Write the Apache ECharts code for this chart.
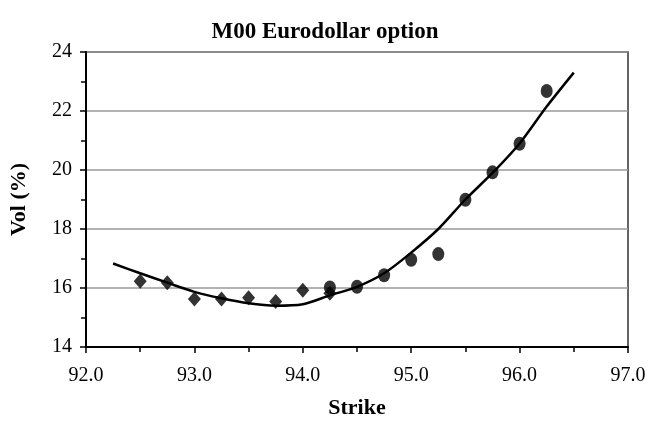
<!DOCTYPE html>
<html>
<head>
<meta charset="utf-8">
<script src="https://cdn.jsdelivr.net/npm/echarts@6/dist/echarts.min.js"></script>
<style>
  html, body { margin: 0; padding: 0; background: #fff; }
  #chart { width: 650px; height: 424px; }
</style>
</head>
<body>
<div id="chart"></div>
<script>
  // market vols
  var putStrikes = [92.5, 92.75, 93.0, 93.25, 93.5, 93.75, 94.0, 94.25];
  var putVols = [16.23, 16.18, 15.63, 15.63, 15.67, 15.54, 15.92, 15.82];

  var callStrikes = [94.25, 94.5, 94.75, 95.0, 95.25, 95.5, 95.75, 96.0, 96.25];
  var callVols = [16.02, 16.04, 16.43, 16.96, 17.15, 18.99, 19.92, 20.89, 22.68];

  // fitted smile
  var fitStrikes = [92.25, 92.5, 92.75, 93.0, 93.25, 93.5, 93.75, 94.0, 94.25, 94.5, 94.75, 95.0, 95.25, 95.5, 95.75, 96.0, 96.25, 96.5];
  var fitVols = [16.83, 16.5, 16.18, 15.87, 15.65, 15.48, 15.4, 15.45, 15.75, 16.04, 16.5, 17.2, 18.0, 19.0, 19.9, 20.9, 22.15, 23.3];

  var font = '"Liberation Serif", "Times New Roman", serif';

  function pairs(xs, ys) {
    return xs.map(function (x, i) { return [x, ys[i]]; });
  }

  var chart = echarts.init(document.getElementById('chart'));
  var option = {
    animation: false,
    title: {
      text: 'M00 Eurodollar option',
      left: 'center',
      top: 16,
      textStyle: { fontFamily: font, fontSize: 23, fontWeight: 'bold', color: '#000' }
    },
    grid: {
      left: 85, right: 22, top: 52, bottom: 75,
      show: true, borderColor: '#333', borderWidth: 1.5
    },
    xAxis: {
      type: 'value',
      min: 92, max: 97, interval: 1,
      name: 'Strike',
      nameLocation: 'middle',
      nameGap: 50,
      nameTextStyle: { fontFamily: font, fontSize: 22, fontWeight: 'bold', color: '#000' },
      axisLine: { lineStyle: { color: '#000', width: 2 } },
      axisTick: { inside: false, length: 6, lineStyle: { color: '#000', width: 1.5 } },
      minorTick: { show: true, splitNumber: 2, length: 5, lineStyle: { color: '#000', width: 1.5 } },
      splitLine: { show: false },
      axisLabel: {
        fontFamily: font, fontSize: 20, color: '#000', margin: 19,
        formatter: function (v) { return v.toFixed(1); }
      }
    },
    yAxis: {
      type: 'value',
      min: 14, max: 24, interval: 2,
      name: 'Vol (%)',
      nameLocation: 'middle',
      nameGap: 56,
      nameTextStyle: { fontFamily: font, fontSize: 22, fontWeight: 'bold', color: '#000' },
      axisLine: { show: true, lineStyle: { color: '#000', width: 2 } },
      axisTick: { show: true, length: 6, lineStyle: { color: '#000', width: 1.5 } },
      minorTick: { show: true, splitNumber: 2, length: 5, lineStyle: { color: '#000', width: 1.5 } },
      splitLine: { show: true, lineStyle: { color: '#999', width: 1.5 } },
      axisLabel: { fontFamily: font, fontSize: 20, color: '#000', margin: 14 }
    },
    series: [
      {
        type: 'line',
        data: pairs(fitStrikes, fitVols),
        smooth: 0.3,
        symbol: 'none',
        lineStyle: { color: '#000', width: 2.5 },
        z: 3
      },
      {
        type: 'scatter',
        data: pairs(putStrikes, putVols),
        symbol: 'diamond',
        symbolSize: [13, 15],
        itemStyle: { color: '#000' },
        z: 4
      },
      {
        type: 'scatter',
        data: pairs(callStrikes, callVols),
        symbol: 'circle',
        symbolSize: [12, 14],
        itemStyle: { color: '#000' },
        z: 5
      }
    ]
  };
  chart.setOption(option);
</script>
</body>
</html>
